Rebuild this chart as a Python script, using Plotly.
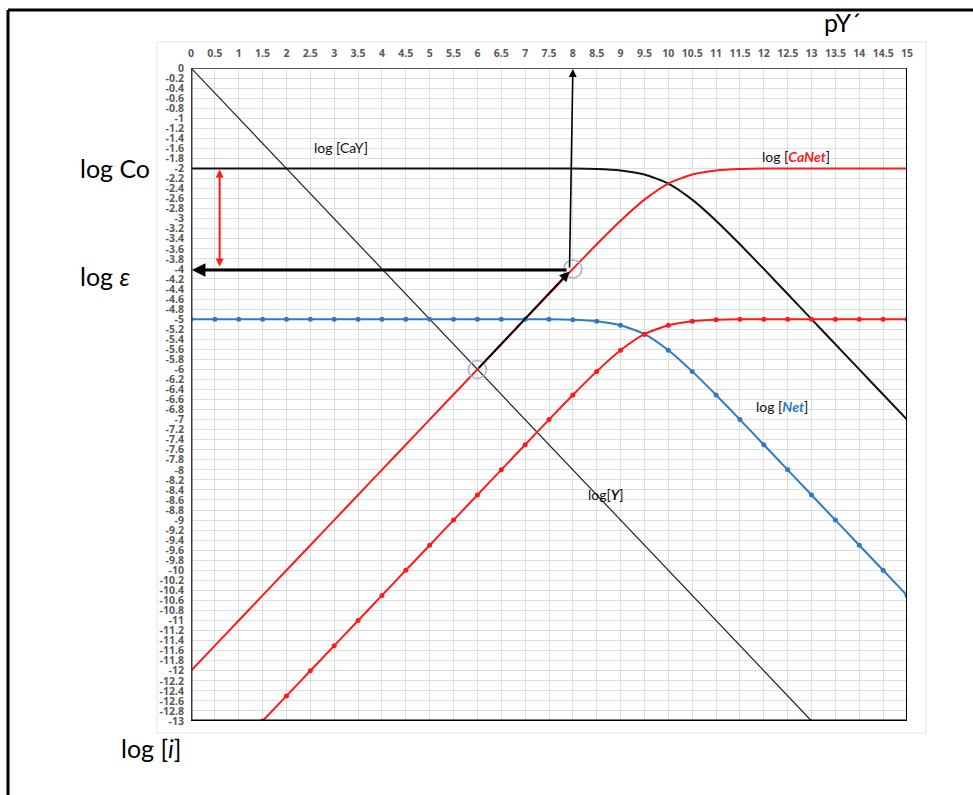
import plotly.graph_objects as go

# ---------------- data ----------------
pY = [0, 0.5, 1, 1.5, 2, 2.5, 3, 3.5, 4, 4.5, 5, 5.5, 6, 6.5, 7, 7.5,
      8, 8.5, 9, 9.5, 10, 10.5, 11, 11.5, 12, 12.5, 13, 13.5, 14, 14.5, 15]

log_CaY = [-2, -2, -2, -2, -2, -2, -2, -2, -2, -2, -2, -2, -2, -2, -2, -2,
           -2, -2.01, -2.04, -2.12, -2.30, -2.62, -3.04, -3.51, -4.0, -4.5,
           -5.0, -5.5, -6.0, -6.5, -7.0]

log_CaNet_hi = [-12, -11.5, -11, -10.5, -10, -9.5, -9, -8.5, -8, -7.5, -7,
                -6.5, -6, -5.5, -5, -4.5, -4.0, -3.51, -3.04, -2.62, -2.30,
                -2.12, -2.04, -2.01, -2, -2, -2, -2, -2, -2, -2]

log_Net = [-5, -5, -5, -5, -5, -5, -5, -5, -5, -5, -5, -5, -5, -5, -5, -5,
           -5.01, -5.04, -5.12, -5.30, -5.62, -6.04, -6.51, -7.0, -7.5, -8.0,
           -8.5, -9.0, -9.5, -10.0, -10.5]

pY_lo = pY[3:]
log_CaNet_lo = [-13, -12.5, -12, -11.5, -11, -10.5, -10, -9.5, -9, -8.5, -8,
                -7.5, -7.0, -6.51, -6.04, -5.62, -5.30, -5.12, -5.04, -5.01,
                -5, -5, -5, -5, -5, -5, -5, -5]

pY_Y = [0, 13]
log_Y = [0, -13]

x_ticks = [i * 0.5 for i in range(31)]
x_ticktext = [("%g" % v) for v in x_ticks]
y_ticks = [round(-i * 0.2, 1) for i in range(66)]
y_ticktext = [("%g" % v) if v != 0 else "0" for v in y_ticks]

# ---------------- layout geometry ----------------
W, H = 973, 795
L, R, T, B = 191, 66, 68, 74
PW, PH = W - L - R, H - T - B


def px(xp):
    return (xp - L) / PW


def py(yp):
    return (H - B - yp) / PH


FONT = "Lato, 'Open Sans', sans-serif"
TFONT = "'Open Sans', sans-serif"
BLUE = "#2c7bc6"
RED = "#ff1a1a"

fig = go.Figure()

fig.add_trace(go.Scatter(x=pY_Y, y=log_Y, mode="lines",
                         line=dict(color="#222222", width=1.2), showlegend=False))
fig.add_trace(go.Scatter(x=pY, y=log_CaY, mode="lines",
                         line=dict(color="#111111", width=2, shape="spline", smoothing=0.6),
                         showlegend=False))
fig.add_trace(go.Scatter(x=pY, y=log_CaNet_hi, mode="lines",
                         line=dict(color=RED, width=2, shape="spline", smoothing=0.6),
                         showlegend=False))
fig.add_trace(go.Scatter(x=pY, y=log_Net, mode="lines+markers",
                         line=dict(color=BLUE, width=2, shape="spline", smoothing=0.6),
                         marker=dict(color=BLUE, size=5), showlegend=False))
fig.add_trace(go.Scatter(x=pY_lo, y=log_CaNet_lo, mode="lines+markers",
                         line=dict(color=RED, width=2, shape="spline", smoothing=0.6),
                         marker=dict(color=RED, size=5), showlegend=False))

shapes = []
# outer frame lines
shapes.append(dict(type="line", xref="paper", yref="paper", x0=px(8), x1=px(973),
                   y0=py(10), y1=py(10), line=dict(color="black", width=3)))
shapes.append(dict(type="line", xref="paper", yref="paper", x0=px(8), x1=px(8),
                   y0=py(10), y1=py(795), line=dict(color="black", width=3)))
# faint chart-area box
shapes.append(dict(type="rect", xref="paper", yref="paper", x0=px(157), x1=px(926),
                   y0=py(733), y1=py(42), line=dict(color="#e3e3e3", width=1), layer="below"))
# plot borders
shapes.append(dict(type="line", xref="x", yref="y", x0=0, x1=0, y0=-13, y1=0,
                   line=dict(color="#3a3a3a", width=3)))
shapes.append(dict(type="line", xref="x", yref="y", x0=0, x1=15, y0=-13, y1=-13,
                   line=dict(color="black", width=3)))
shapes.append(dict(type="line", xref="x", yref="y", x0=15, x1=15, y0=-13, y1=0,
                   line=dict(color="black", width=2)))
shapes.append(dict(type="line", xref="x", yref="y", x0=0, x1=15, y0=0, y1=0,
                   line=dict(color="#222222", width=1.5)))
# circles
for cx, cy in [(6, -6), (8, -4)]:
    shapes.append(dict(type="circle", xref="x", yref="y", xsizemode="pixel",
                       ysizemode="pixel", xanchor=cx, yanchor=cy, x0=-9, x1=9,
                       y0=-9, y1=9, line=dict(color="#9db3d3", width=1.5)))
for s in shapes:
    s.setdefault("layer", "above")

annotations = []
# arrows
annotations.append(dict(x=0.02, y=-4.02, ax=7.9, ay=-4.02, xref="x", yref="y",
                        axref="x", ayref="y", showarrow=True, arrowhead=2,
                        arrowsize=0.9, arrowwidth=3, arrowcolor="black", text=""))
annotations.append(dict(x=8.0, y=-0.02, ax=7.93, ay=-4.0, xref="x", yref="y",
                        axref="x", ayref="y", showarrow=True, arrowhead=2,
                        arrowsize=1, arrowwidth=1.6, arrowcolor="black", text=""))
annotations.append(dict(x=7.93, y=-4.05, ax=6.0, ay=-6.0, xref="x", yref="y",
                        axref="x", ayref="y", showarrow=True, arrowhead=2,
                        arrowsize=1, arrowwidth=2, arrowcolor="black", text=""))
annotations.append(dict(x=0.6, y=-2.02, ax=0.6, ay=-3.98, xref="x", yref="y",
                        axref="x", ayref="y", showarrow=True, arrowhead=2,
                        startarrowhead=2, arrowside="end+start", arrowsize=0.8,
                        startarrowsize=0.8, arrowwidth=2, arrowcolor=RED, text=""))

# curve labels
lab = dict(family=FONT, size=14, color="#111111")
annotations.append(dict(x=3.14, y=-1.59, xref="x", yref="y", showarrow=False,
                        text="log [CaY]", font=lab))
annotations.append(dict(x=12.68, y=-1.77, xref="x", yref="y", showarrow=False,
                        text="log [<b><i><span style='color:%s'>CaNet</span></i></b>]" % RED,
                        font=lab))
annotations.append(dict(x=12.38, y=-6.73, xref="x", yref="y", showarrow=False,
                        text="log [<b><i><span style='color:%s'>Net</span></i></b>]" % BLUE,
                        font=lab))
annotations.append(dict(x=8.69, y=-8.49, xref="x", yref="y", showarrow=False,
                        text="log[<b><i>Y</i></b>]", font=lab))

big = dict(family=FONT, size=25, color="black")
annotations.append(dict(x=px(842), y=py(22), xref="paper", yref="paper", showarrow=False,
                        xanchor="center", yanchor="middle", text="pY´", font=big))
annotations.append(dict(x=px(78), y=py(168), xref="paper", yref="paper", showarrow=False,
                        xanchor="left", yanchor="middle", text="log Co", font=big))
annotations.append(dict(x=px(78), y=py(276), xref="paper", yref="paper", showarrow=False,
                        xanchor="left", yanchor="middle", text="log <i>ε</i>", font=big))
annotations.append(dict(x=px(151), y=py(748), xref="paper", yref="paper", showarrow=False,
                        xanchor="center", yanchor="middle", text="log [<i>i</i>]", font=big))

tickfont = dict(family=TFONT, size=10.5, color="#595959", weight="bold")

fig.update_layout(
    width=W, height=H,
    margin=dict(l=L, r=R, t=T, b=B, pad=0),
    paper_bgcolor="white", plot_bgcolor="white",
    shapes=shapes, annotations=annotations,
    xaxis=dict(range=[0, 15], side="top", tickmode="array", tickvals=x_ticks,
               ticktext=x_ticktext, tickfont=tickfont, showgrid=True,
               gridcolor="#dedede", gridwidth=1, zeroline=False, showline=False,
               ticks="", ticklabelstandoff=8, fixedrange=True),
    yaxis=dict(range=[-13, 0], tickmode="array", tickvals=y_ticks,
               ticktext=y_ticktext, tickfont=tickfont, showgrid=True,
               gridcolor="#dedede", gridwidth=1, zeroline=False, showline=False,
               ticks="", ticklabelstandoff=6, fixedrange=True),
    font=dict(family=FONT),
)

fig.write_html("out.html", include_plotlyjs=True)
